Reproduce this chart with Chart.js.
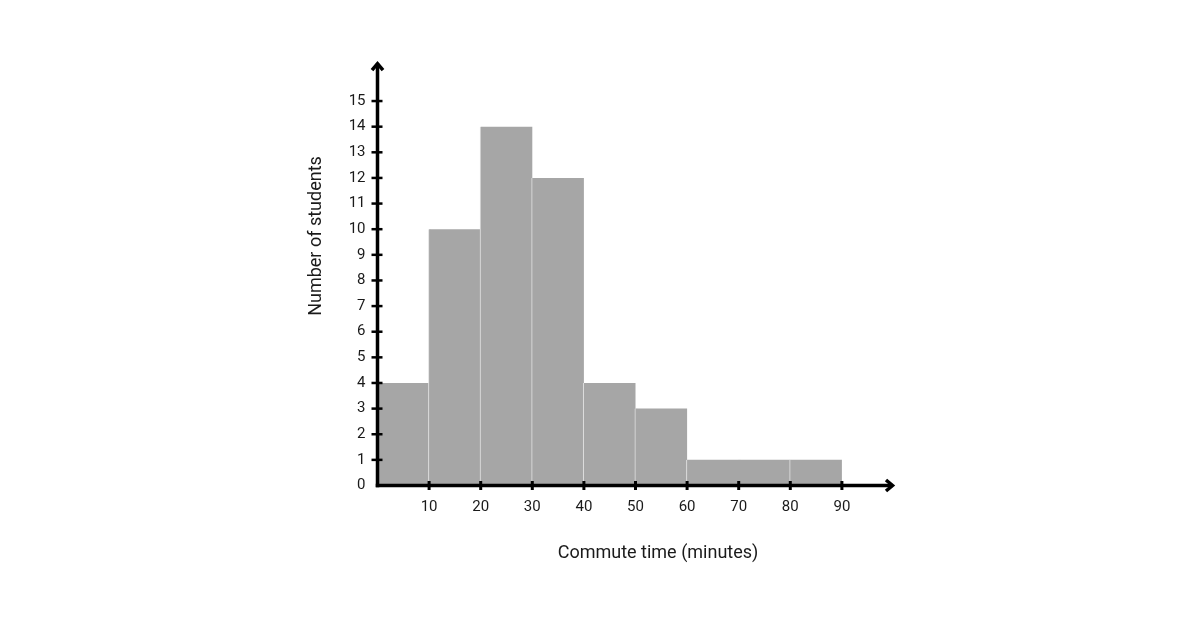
<!DOCTYPE html>
<html><head><meta charset="utf-8">
<script src="https://cdn.jsdelivr.net/npm/chart.js@4/dist/chart.umd.min.js"></script>
<style>html,body{margin:0;padding:0;background:#fff;overflow:hidden}</style>
</head><body>
<canvas id="c" width="1200" height="628" style="width:1200px;height:628px;display:block"></canvas>
<script>
const binStarts = [0, 10, 20, 30, 40, 50, 60, 70, 80];
const binWidth = 10;
const counts = [4, 10, 14, 12, 4, 3, 1, 1, 1];
const xTickValues = [10, 20, 30, 40, 50, 60, 70, 80, 90];
const yTickValues = [0, 1, 2, 3, 4, 5, 6, 7, 8, 9, 10, 11, 12, 13, 14, 15];
const xTitle = 'Commute time (minutes)';
const yTitle = 'Number of students';

const points = binStarts.map((s, i) => ({ x: s + binWidth / 2, y: counts[i] }));
const textColor = '#1a1a1a';
const barFill = '#a6a6a6';
const barSeparator = '#e2e2e2';

const axesPlugin = {
  id: 'axesArrows',
  afterDatasetsDraw(chart) {
    const { ctx, chartArea, scales: { x, y } } = chart;
    const x0 = x.getPixelForValue(0), y0 = y.getPixelForValue(0);
    const xEnd = chartArea.right, yEnd = chartArea.top;
    ctx.save();
    ctx.strokeStyle = '#000';
    ctx.lineWidth = 3.5;
    ctx.lineCap = 'butt';
    ctx.lineJoin = 'miter';
    ctx.beginPath();
    ctx.moveTo(x0, y0 + 1.75);
    ctx.lineTo(x0, yEnd + 1);
    ctx.stroke();
    ctx.beginPath();
    ctx.moveTo(x0 - 5.5, yEnd + 7.5);
    ctx.lineTo(x0, yEnd + 1);
    ctx.lineTo(x0 + 5.5, yEnd + 7.5);
    ctx.stroke();
    ctx.beginPath();
    ctx.moveTo(x0 - 1.75, y0);
    ctx.lineTo(xEnd - 1, y0);
    ctx.stroke();
    ctx.beginPath();
    ctx.moveTo(xEnd - 7.5, y0 - 5.5);
    ctx.lineTo(xEnd - 1, y0);
    ctx.lineTo(xEnd - 7.5, y0 + 5.5);
    ctx.stroke();
    ctx.lineWidth = 2.5;
    yTickValues.forEach(v => {
      if (v === 0) return;
      const py = y.getPixelForValue(v);
      ctx.beginPath(); ctx.moveTo(x0 - 6, py); ctx.lineTo(x0 + 5, py); ctx.stroke();
    });
    ctx.lineWidth = 3;
    xTickValues.forEach(v => {
      const px = x.getPixelForValue(v);
      ctx.beginPath(); ctx.moveTo(px, y0 - 4.5); ctx.lineTo(px, y0 + 4.5); ctx.stroke();
    });
    ctx.fillStyle = textColor;
    ctx.font = '18px Roboto';
    ctx.textAlign = 'center';
    ctx.textBaseline = 'middle';
    ctx.fillText(xTitle, 658, 553);
    ctx.translate(316, 236);
    ctx.rotate(-Math.PI / 2);
    ctx.fillText(yTitle, 0, 0);
    ctx.restore();
  }
};

new Chart(document.getElementById('c'), {
  type: 'bar',
  data: {
    datasets: [{
      data: points,
      backgroundColor: barFill,
      borderColor: (c) => (c.dataIndex === 7 ? barFill : barSeparator),
      borderSkipped: false,
      borderWidth: { left: 1, top: 0, right: 0, bottom: 0 },
      inflateAmount: 1,
      barPercentage: 1,
      categoryPercentage: 1,
      grouped: false
    }]
  },
  options: {
    responsive: false,
    animation: false,
    devicePixelRatio: 1,
    layout: { padding: { left: 317.5, right: 306.5, top: 62.6, bottom: 112.5 } },
    plugins: { legend: { display: false }, tooltip: { enabled: false } },
    scales: {
      x: {
        type: 'linear', min: 0, max: 100, offset: false,
        grid: { display: false, drawTicks: false },
        border: { display: false },
        afterBuildTicks: s => { s.ticks = xTickValues.map(v => ({ value: v })); },
        afterFit: s => { s.height = 30; },
        ticks: { padding: 13, color: textColor, font: { family: 'Roboto', size: 15 }, maxRotation: 0, autoSkip: false }
      },
      y: {
        type: 'linear', min: 0, max: 16.5,
        grid: { display: false, drawTicks: false },
        border: { display: false },
        afterBuildTicks: s => { s.ticks = yTickValues.map(v => ({ value: v })); },
        afterFit: s => { s.width = 60; },
        ticks: { padding: 12, color: textColor, font: { family: 'Roboto', size: 15 }, autoSkip: false }
      }
    }
  },
  plugins: [axesPlugin]
});
</script>
</body></html>
